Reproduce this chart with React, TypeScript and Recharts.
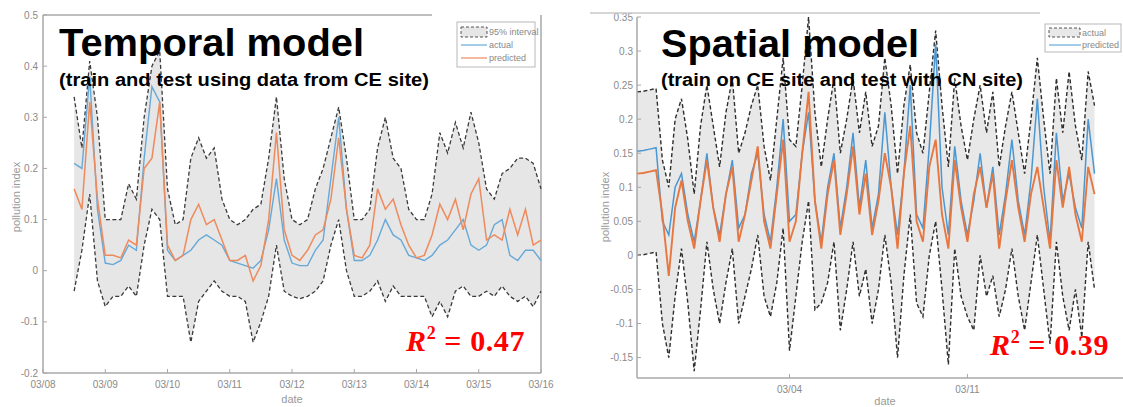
import { Area, ComposedChart, Line, ReferenceLine, XAxis, YAxis } from "recharts";

const FONT = '"Liberation Sans", Arial, Helvetica, sans-serif';
const MATH_FONT = '"Liberation Serif", "DejaVu Serif", serif';
const AXIS = "#a8a8a8";
const TICK_TEXT = "#8a8a8a";

// temporal model: samples every 3 h from 03/08 12:00 (x in days since 03/08)
const TEMP_START = 0.5;
const TEMP_STEP = 0.125;
const tempTickLabels = ["03/08", "03/09", "03/10", "03/11", "03/12", "03/13", "03/14", "03/15", "03/16"];
const tempYTicks = [-0.2, -0.1, 0, 0.1, 0.2, 0.3, 0.4, 0.5];

const tempUpper = [
  0.34, 0.24, 0.41, 0.3, 0.1, 0.1, 0.1, 0.17, 0.14, 0.3, 0.4, 0.43, 0.16, 0.09, 0.1, 0.22,
  0.26, 0.22, 0.24, 0.14, 0.1, 0.09, 0.1, 0.12, 0.13, 0.22, 0.34, 0.18, 0.1, 0.09, 0.1, 0.16,
  0.2, 0.26, 0.32, 0.22, 0.1, 0.1, 0.12, 0.24, 0.3, 0.22, 0.2, 0.12, 0.1, 0.1, 0.15, 0.27,
  0.23, 0.29, 0.24, 0.31, 0.25, 0.16, 0.14, 0.19, 0.2, 0.22, 0.22, 0.21, 0.16,
];
const tempLower = [
  -0.04, 0.04, 0.15, -0.02, -0.07, -0.05, -0.05, -0.03, -0.05, 0.05, 0.12, 0.1, -0.05, -0.05, -0.05, -0.14,
  -0.06, -0.04, -0.02, -0.04, -0.05, -0.05, -0.06, -0.14, -0.1, -0.05, 0.05, -0.04, -0.05, -0.055, -0.05, -0.04,
  -0.02, 0.05, 0.1, 0.0, -0.05, -0.05, -0.04, -0.02, -0.06, -0.03, -0.05, -0.05, -0.05, -0.05, -0.09, -0.06,
  -0.09, -0.04, -0.03, -0.05, -0.05, -0.04, -0.05, -0.03, -0.05, -0.06, -0.05, -0.07, -0.04,
];
const tempActual = [
  0.21, 0.2, 0.38, 0.12, 0.015, 0.012, 0.02, 0.05, 0.04, 0.22, 0.36, 0.33, 0.04, 0.02, 0.03, 0.04,
  0.06, 0.07, 0.06, 0.05, 0.02, 0.015, 0.01, 0.005, 0.02, 0.08, 0.18, 0.06, 0.015, 0.01, 0.01, 0.04,
  0.06, 0.18, 0.3, 0.12, 0.02, 0.02, 0.03, 0.06, 0.1, 0.07, 0.06, 0.03, 0.025, 0.02, 0.03, 0.05,
  0.06, 0.08, 0.1, 0.05, 0.04, 0.05, 0.09, 0.1, 0.03, 0.02, 0.04, 0.04, 0.02,
];
const tempPredicted = [
  0.16, 0.12, 0.33, 0.14, 0.03, 0.03, 0.025, 0.06, 0.05, 0.2, 0.22, 0.33, 0.05, 0.02, 0.03, 0.1,
  0.13, 0.09, 0.1, 0.06, 0.02, 0.02, 0.03, -0.02, 0.01, 0.1, 0.27, 0.08, 0.03, 0.02, 0.04, 0.07,
  0.08, 0.14, 0.26, 0.12, 0.03, 0.025, 0.05, 0.16, 0.12, 0.14, 0.09, 0.05, 0.025, 0.03, 0.07, 0.13,
  0.1, 0.14, 0.08, 0.15, 0.18, 0.06, 0.07, 0.06, 0.12, 0.07, 0.12, 0.05, 0.06,
];

// spatial model: samples every 6 h (x in days since 02/27)
const SPAT_STEP = 0.25;
const spatTicks = [6, 13];
const spatTickLabels: Record<number, string> = { 6: "03/04", 13: "03/11" };
const spatYTicks = [-0.15, -0.1, -0.05, 0, 0.05, 0.1, 0.15, 0.2, 0.25, 0.3, 0.35];

const spatUpper = [
  0.24, 0.241, 0.243, 0.245,
  0.14, 0.1, 0.2, 0.23, 0.17, 0.09, 0.19, 0.25, 0.19, 0.13, 0.21, 0.26,
  0.15, 0.18, 0.22, 0.25, 0.16, 0.11, 0.2, 0.29, 0.17, 0.16, 0.25, 0.35,
  0.21, 0.13, 0.2, 0.26, 0.15, 0.2, 0.26, 0.18, 0.24, 0.16, 0.19, 0.29,
  0.22, 0.12, 0.22, 0.28, 0.18, 0.15, 0.24, 0.33, 0.22, 0.13, 0.26, 0.19,
  0.14, 0.2, 0.25, 0.18, 0.24, 0.13, 0.19, 0.24, 0.18, 0.12, 0.2, 0.29,
  0.2, 0.12, 0.26, 0.18, 0.27, 0.19, 0.14, 0.27, 0.22,
];
const spatLower = [
  0.0, 0.001, 0.003, 0.005,
  -0.1, -0.15, -0.06, 0.01, -0.07, -0.17, -0.08, 0.02, -0.05, -0.1, -0.04, 0.01,
  -0.1, -0.06, -0.02, 0.03, -0.06, -0.09, -0.04, 0.04, -0.14, -0.06, 0.02, 0.08,
  -0.08, -0.07, -0.04, 0.02, -0.11, -0.05, 0.02, -0.06, -0.02, -0.1, -0.05, 0.03,
  -0.04, -0.15, -0.03, 0.06, -0.07, -0.09, 0.0, 0.05, -0.05, -0.16, 0.01, -0.06,
  -0.09, -0.11, 0.0, -0.06, -0.03, -0.09, -0.05, 0.01, -0.06, -0.11, -0.04, 0.03,
  -0.05, -0.13, 0.02, -0.06, -0.11, -0.05, -0.12, 0.02, -0.05,
];
const spatActual = [
  0.153, 0.154, 0.156, 0.158,
  0.05, 0.03, 0.1, 0.12, 0.06, 0.02, 0.08, 0.15, 0.07, 0.03, 0.09, 0.14,
  0.04, 0.06, 0.12, 0.15, 0.06, 0.02, 0.1, 0.2, 0.05, 0.06, 0.15, 0.21,
  0.08, 0.02, 0.1, 0.15, 0.04, 0.1, 0.18, 0.07, 0.14, 0.04, 0.09, 0.21,
  0.1, 0.03, 0.12, 0.25, 0.06, 0.04, 0.16, 0.31, 0.1, 0.03, 0.16, 0.08,
  0.03, 0.08, 0.15, 0.07, 0.13, 0.03, 0.09, 0.17, 0.08, 0.03, 0.11, 0.23,
  0.1, 0.02, 0.18, 0.08, 0.12, 0.07, 0.04, 0.2, 0.12,
];
const spatPredicted = [
  0.12, 0.121, 0.123, 0.125,
  0.06, -0.03, 0.07, 0.11, 0.05, 0.01, 0.08, 0.14, 0.07, 0.02, 0.09, 0.13,
  0.02, 0.06, 0.11, 0.16, 0.05, 0.01, 0.09, 0.17, 0.02, 0.05, 0.15, 0.24,
  0.08, 0.01, 0.09, 0.14, 0.03, 0.09, 0.16, 0.06, 0.12, 0.03, 0.08, 0.15,
  0.1, 0.01, 0.12, 0.19, 0.05, 0.02, 0.13, 0.17, 0.06, 0.01, 0.14, 0.07,
  0.02, 0.09, 0.13, 0.07, 0.12, 0.01, 0.08, 0.14, 0.07, 0.02, 0.09, 0.13,
  0.07, 0.01, 0.14, 0.07, 0.13, 0.06, 0.02, 0.13, 0.09,
];

const tempRows = tempUpper.map((u, i) => ({
  day: TEMP_START + i * TEMP_STEP,
  band: [tempLower[i], u],
  upper: u,
  lower: tempLower[i],
  actual: tempActual[i],
  predicted: tempPredicted[i],
}));

const spatRows = spatUpper.map((u, i) => ({
  day: i * SPAT_STEP,
  band: [spatLower[i], u],
  upper: u,
  lower: spatLower[i],
  actual: spatActual[i],
  predicted: spatPredicted[i],
}));

const yLabel = (v: number) => (v === 0 ? "0" : String(v));
const tickStyle = { fontSize: 10, fill: TICK_TEXT, fontFamily: FONT };

const TemporalChart = () => (
  <ComposedChart width={560} height={407} data={tempRows} margin={{ top: 15, right: 19, bottom: 0, left: 0 }}>
    <XAxis
      dataKey="day"
      type="number"
      domain={[0, 8]}
      ticks={[0, 1, 2, 3, 4, 5, 6, 7, 8]}
      interval={0}
      tickFormatter={(v: number) => tempTickLabels[v]}
      height={34}
      tickSize={-4}
      tickMargin={12}
      axisLine={{ stroke: AXIS, strokeWidth: 1.5 }}
      tickLine={{ stroke: AXIS }}
      tick={tickStyle}
    />
    <YAxis
      type="number"
      domain={[-0.2, 0.5]}
      ticks={tempYTicks}
      interval={0}
      tickFormatter={yLabel}
      width={43}
      tickSize={-4}
      tickMargin={9}
      axisLine={{ stroke: AXIS, strokeWidth: 1.5 }}
      tickLine={{ stroke: AXIS }}
      tick={tickStyle}
    />
    <ReferenceLine segment={[{ x: 0, y: 0.5 }, { x: 6.25, y: 0.5 }]} stroke={AXIS} strokeWidth={1.5} />
    <ReferenceLine x={8} stroke={AXIS} strokeWidth={1.5} />
    <Area dataKey="band" type="linear" fill="#e6e6e6" fillOpacity={1} stroke="none" isAnimationActive={false} />
    <Line dataKey="upper" type="linear" stroke="#3a3a3a" strokeWidth={1.3} strokeDasharray="4 2.5" dot={false} isAnimationActive={false} />
    <Line dataKey="lower" type="linear" stroke="#3a3a3a" strokeWidth={1.3} strokeDasharray="4 2.5" dot={false} isAnimationActive={false} />
    <Line dataKey="actual" type="linear" stroke="#66a9d9" strokeWidth={1.4} dot={false} isAnimationActive={false} />
    <Line dataKey="predicted" type="linear" stroke="#ee8a5c" strokeWidth={1.5} dot={false} isAnimationActive={false} />
  </ComposedChart>
);

const SpatialChart = () => (
  <ComposedChart width={560} height={407} data={spatRows} margin={{ top: 17, right: 1, bottom: 0, left: 0 }}>
    <XAxis
      dataKey="day"
      type="number"
      domain={[0, 19.75]}
      ticks={spatTicks}
      interval={0}
      tickFormatter={(v: number) => spatTickLabels[v]}
      height={29}
      tickSize={-4}
      tickMargin={12}
      axisLine={{ stroke: AXIS, strokeWidth: 1.5 }}
      tickLine={{ stroke: AXIS }}
      tick={tickStyle}
    />
    <YAxis
      type="number"
      domain={[-0.18, 0.35]}
      ticks={spatYTicks}
      interval={0}
      tickFormatter={yLabel}
      width={57}
      tickSize={-4}
      tickMargin={8}
      axisLine={{ stroke: AXIS, strokeWidth: 1.5 }}
      tickLine={{ stroke: AXIS }}
      tick={tickStyle}
    />
    <Area dataKey="band" type="linear" fill="#e8e8e8" fillOpacity={1} stroke="none" isAnimationActive={false} />
    <Line dataKey="upper" type="linear" stroke="#2e2e2e" strokeWidth={1.4} strokeDasharray="4 2.5" dot={false} isAnimationActive={false} />
    <Line dataKey="lower" type="linear" stroke="#2e2e2e" strokeWidth={1.4} strokeDasharray="4 2.5" dot={false} isAnimationActive={false} />
    <Line dataKey="actual" type="linear" stroke="#4a97d2" strokeWidth={1.5} dot={false} isAnimationActive={false} />
    <Line dataKey="predicted" type="linear" stroke="#e8763f" strokeWidth={1.9} dot={false} isAnimationActive={false} />
  </ComposedChart>
);

const Overlay = () => (
  <svg width={1123} height={407} style={{ position: "absolute", left: 0, top: 0, pointerEvents: "none" }}>
    {/* slide rule above the right plot */}
    <line x1={590} y1={13} x2={1040} y2={13} stroke="#c8c8c8" strokeWidth={1.5} />

    {/* titles */}
    <text x={59} y={56} fontSize={38} fontWeight={700} fontFamily={FONT} fill="#000" textLength={305} lengthAdjust="spacingAndGlyphs">
      Temporal model
    </text>
    <text x={59} y={86} fontSize={18} fontWeight={700} fontFamily={FONT} fill="#000" textLength={370} lengthAdjust="spacingAndGlyphs">
      (train and test using data from CE site)
    </text>
    <text x={661} y={57} fontSize={38} fontWeight={700} fontFamily={FONT} fill="#000" textLength={258} lengthAdjust="spacingAndGlyphs">
      Spatial model
    </text>
    <text x={661} y={86} fontSize={18} fontWeight={700} fontFamily={FONT} fill="#000" textLength={362} lengthAdjust="spacingAndGlyphs">
      (train on CE site and test with CN site)
    </text>

    {/* R squared */}
    <text x={406} y={351} fontSize={30} fontWeight={700} fontFamily={MATH_FONT} fill="#ff0000" letterSpacing={0.6}>
      <tspan fontStyle="italic">R</tspan>
      <tspan dy={-12} fontSize={18}>2</tspan>
      <tspan dy={12}> = 0.47</tspan>
    </text>
    <text x={990} y={355} fontSize={30} fontWeight={700} fontFamily={MATH_FONT} fill="#ff0000" letterSpacing={0.6}>
      <tspan fontStyle="italic">R</tspan>
      <tspan dy={-12} fontSize={18}>2</tspan>
      <tspan dy={12}> = 0.39</tspan>
    </text>

    {/* axis titles */}
    <text transform="translate(20,197) rotate(-90)" fontSize={11} fontFamily={FONT} fill="#999" textAnchor="middle">
      pollution index
    </text>
    <text x={292} y={403} fontSize={11} fontFamily={FONT} fill="#999" textAnchor="middle">
      date
    </text>
    <text transform="translate(609,207) rotate(-90)" fontSize={11} fontFamily={FONT} fill="#999" textAnchor="middle">
      pollution index
    </text>
    <text x={885} y={405} fontSize={11} fontFamily={FONT} fill="#999" textAnchor="middle">
      date
    </text>

    {/* legend, temporal */}
    <rect x={457} y={22} width={78} height={45} fill="#fff" stroke="#b8b8b8" strokeWidth={1} />
    <rect x={461} y={27} width={26} height={10} fill="#e6e6e6" stroke="#555" strokeWidth={1} strokeDasharray="3 2" />
    <text x={489} y={35} fontSize={9} fontFamily={FONT} fill="#888">95% interval</text>
    <line x1={461} y1={45} x2={487} y2={45} stroke="#66a9d9" strokeWidth={1.2} />
    <text x={489} y={48} fontSize={9} fontFamily={FONT} fill="#888">actual</text>
    <line x1={461} y1={58} x2={487} y2={58} stroke="#ee8a5c" strokeWidth={1.2} />
    <text x={489} y={61} fontSize={9} fontFamily={FONT} fill="#888">predicted</text>

    {/* legend, spatial */}
    <rect x={1045} y={24} width={76} height={28} fill="#fff" stroke="#b8b8b8" strokeWidth={1} />
    <rect x={1049} y={28} width={31} height={9} fill="#e8e8e8" stroke="#555" strokeWidth={1} strokeDasharray="3 2" />
    <text x={1082} y={36} fontSize={9} fontFamily={FONT} fill="#888">actual</text>
    <line x1={1049} y1={45} x2={1081} y2={45} stroke="#66a9d9" strokeWidth={1.2} />
    <text x={1082} y={48} fontSize={9} fontFamily={FONT} fill="#888">predicted</text>
  </svg>
);

export default function App() {
  return (
    <div style={{ position: "absolute", left: 0, top: 0, width: 1123, height: 407, overflow: "hidden", background: "#fff" }}>
      <div style={{ position: "absolute", left: 0, top: 0 }}>
        <TemporalChart />
      </div>
      <div style={{ position: "absolute", left: 580, top: 0 }}>
        <SpatialChart />
      </div>
      <Overlay />
    </div>
  );
}
